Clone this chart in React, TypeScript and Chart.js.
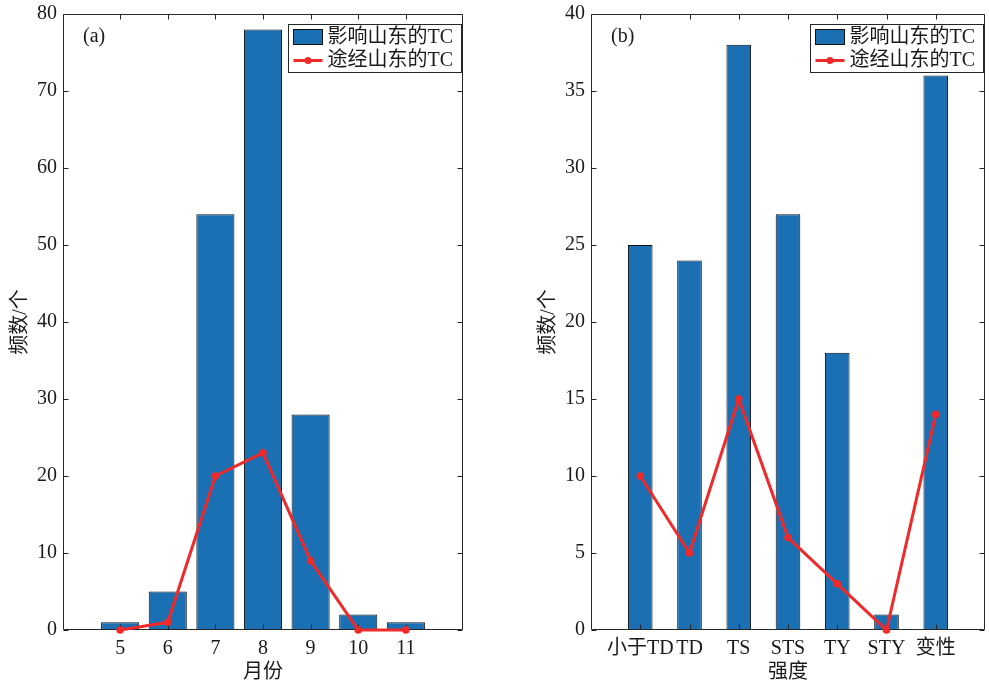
import React, { useEffect, useRef } from "react";
import { Chart, registerables } from "chart.js";

Chart.register(...registerables);

// ---------- data ----------
const months = [5, 6, 7, 8, 9, 10, 11];
const monthAffect = [1, 5, 54, 78, 28, 2, 1];
const monthPass = [0, 1, 20, 23, 9, 0, 0];

const intensityLabels = ["小于TD", "TD", "TS", "STS", "TY", "STY", "变性"];
const intensityAffect = [25, 24, 38, 27, 18, 1, 36];
const intensityPass = [10, 5, 15, 6, 3, 0, 14];

const seriesNames = ["影响山东的TC", "途经山东的TC"];
const yTitle = "频数/个";
const xTitleA = "月份";
const xTitleB = "强度";

// ---------- style ----------
const FONT_FAMILY = '"Liberation Serif", "Times New Roman", "Noto Sans CJK SC", serif';
const TEXT_COLOR = "#1a1a1a";
const AXIS_COLOR = "#262626";
const BAR_COLOR = "#1b70b4";
const BAR_EDGE = "#111111";
const LINE_COLOR = "#ee2a2a";
const FONT = { family: FONT_FAMILY, size: 20 };

const matlabAxes = {
  id: "matlabAxes",
  afterDatasetDraw(chart: any, args: any) {
    if (args.index !== 0) return;
    const { ctx, chartArea: a, scales } = chart;
    const L = Math.round(a.left) + 0.5;
    const R = Math.round(a.right) - 0.5;
    const T = Math.round(a.top) + 0.5;
    const B = Math.round(a.bottom) - 0.5;
    const tl = 5;
    ctx.save();
    ctx.strokeStyle = AXIS_COLOR;
    ctx.lineWidth = 1;
    ctx.beginPath();
    ctx.rect(L, T, R - L, B - T);
    scales.x.ticks.forEach((t: any) => {
      const px = Math.round(scales.x.getPixelForValue(t.value)) + 0.5;
      ctx.moveTo(px, B);
      ctx.lineTo(px, B - tl);
      ctx.moveTo(px, T);
      ctx.lineTo(px, T + tl);
    });
    scales.y.ticks.forEach((t: any) => {
      const py = Math.round(scales.y.getPixelForValue(t.value)) + 0.5;
      ctx.moveTo(L, py);
      ctx.lineTo(L + tl, py);
      ctx.moveTo(R, py);
      ctx.lineTo(R - tl, py);
    });
    ctx.stroke();
    ctx.restore();
  },
  afterDatasetsDraw(chart: any, _args: any, opts: any) {
    const { ctx, chartArea: a } = chart;
    ctx.save();
    // panel tag
    ctx.fillStyle = TEXT_COLOR;
    ctx.font = `20px ${FONT_FAMILY}`;
    ctx.textBaseline = "middle";
    ctx.textAlign = "left";
    ctx.fillText(opts.tag, a.left + 20, a.top + 23);

    // legend
    const bw = 173;
    const bh = 48;
    const bx = Math.round(a.right) - 175 + 0.5;
    const by = Math.round(a.top) + 10 + 0.5;
    ctx.fillStyle = "#ffffff";
    ctx.fillRect(bx, by, bw, bh);
    ctx.strokeStyle = AXIS_COLOR;
    ctx.lineWidth = 1;
    ctx.strokeRect(bx, by, bw, bh);

    const ds = chart.data.datasets;
    // bar entry
    ctx.fillStyle = BAR_COLOR;
    ctx.fillRect(bx + 5, by + 5, 29, 15);
    ctx.strokeStyle = BAR_EDGE;
    ctx.strokeRect(bx + 5, by + 5, 29, 15);
    // line entry
    ctx.strokeStyle = LINE_COLOR;
    ctx.lineWidth = 3;
    ctx.beginPath();
    ctx.moveTo(bx + 5, by + 36);
    ctx.lineTo(bx + 34, by + 36);
    ctx.stroke();
    ctx.fillStyle = LINE_COLOR;
    ctx.beginPath();
    ctx.arc(bx + 19.5, by + 36, 3.5, 0, Math.PI * 2);
    ctx.fill();

    ctx.fillStyle = TEXT_COLOR;
    ctx.font = `20px ${FONT_FAMILY}`;
    ctx.textBaseline = "middle";
    ctx.fillText(ds[0].label, bx + 39, by + 13);
    ctx.fillText(ds[1].label, bx + 39, by + 36);
    ctx.restore();
  },
};

function buildConfig(
  xs: number[],
  bars: number[],
  line: number[],
  xMin: number,
  xMax: number,
  yMax: number,
  yStep: number,
  barPct: number,
  xTitle: string,
  tag: string,
  tickLabel: (v: number) => string,
  padRight: number
): any {
  return {
    type: "bar",
    data: {
      datasets: [
        {
          type: "bar",
          label: seriesNames[0],
          data: xs.map((x, i) => ({ x, y: bars[i] })),
          backgroundColor: BAR_COLOR,
          borderColor: BAR_EDGE,
          borderWidth: 1,
          borderSkipped: false,
          barPercentage: barPct,
          categoryPercentage: 1,
          order: 2,
        },
        {
          type: "line",
          label: seriesNames[1],
          data: xs.map((x, i) => ({ x, y: line[i] })),
          borderColor: LINE_COLOR,
          backgroundColor: LINE_COLOR,
          borderWidth: 3,
          pointRadius: 3.8,
          pointBorderWidth: 0,
          pointBackgroundColor: LINE_COLOR,
          tension: 0,
          clip: false,
          order: 1,
        },
      ],
    },
    options: {
      responsive: false,
      animation: false,
      layout: { padding: { top: 14, right: padRight, left: 0, bottom: 0 } },
      plugins: {
        legend: { display: false },
        tooltip: { enabled: false },
        matlabAxes: { tag },
      },
      scales: {
        x: {
          type: "linear",
          offset: false,
          min: xMin,
          max: xMax,
          grid: { display: false, drawTicks: false, offset: false },
          border: { display: false },
          afterBuildTicks: (s: any) => {
            s.ticks = xs.map((v) => ({ value: v }));
          },
          ticks: {
            font: FONT,
            color: TEXT_COLOR,
            padding: 7,
            autoSkip: false,
            maxRotation: 0,
            callback: (v: any) => tickLabel(Number(v)),
          },
          title: {
            display: true,
            text: xTitle,
            font: FONT,
            color: TEXT_COLOR,
            padding: { top: 0, bottom: 0 },
          },
          afterFit: (s: any) => {
            s.height = 55;
            s.paddingLeft = 0;
            s.paddingRight = 0;
          },
        },
        y: {
          type: "linear",
          min: 0,
          max: yMax,
          grid: { display: false, drawTicks: false },
          border: { display: false },
          ticks: { font: FONT, color: TEXT_COLOR, padding: 6, stepSize: yStep },
          title: {
            display: true,
            text: yTitle,
            font: FONT,
            color: TEXT_COLOR,
            padding: { top: 9, bottom: 0 },
          },
          afterFit: (s: any) => {
            s.width = 63;
            s.paddingTop = 0;
            s.paddingBottom = 0;
          },
        },
      },
    },
    plugins: [matlabAxes],
  };
}

function Panel({ left, width, makeConfig }: { left: number; width: number; makeConfig: () => any }) {
  const ref = useRef<HTMLCanvasElement>(null);
  useEffect(() => {
    const chart = new Chart(ref.current as HTMLCanvasElement, makeConfig());
    return () => chart.destroy();
  }, []);
  return (
    <canvas
      ref={ref}
      width={width}
      height={685}
      style={{ position: "absolute", left, top: 0, width, height: 685, display: "block" }}
    />
  );
}

const intensityX = intensityLabels.map((_, i) => i + 1);

export default function App() {
  return (
    <div style={{ position: "absolute", left: 0, top: 0, width: 989, height: 685, background: "#fff" }}>
      <Panel
        left={0}
        width={494}
        makeConfig={() =>
          buildConfig(months, monthAffect, monthPass, 3.8, 12.2, 80, 10, 0.8, xTitleA, "(a)", (v) => String(v), 31)
        }
      />
      <Panel
        left={528}
        width={461}
        makeConfig={() =>
          buildConfig(
            intensityX,
            intensityAffect,
            intensityPass,
            0,
            8,
            40,
            5,
            0.5,
            xTitleB,
            "(b)",
            (v) => intensityLabels[v - 1] ?? "",
            3
          )
        }
      />
    </div>
  );
}
